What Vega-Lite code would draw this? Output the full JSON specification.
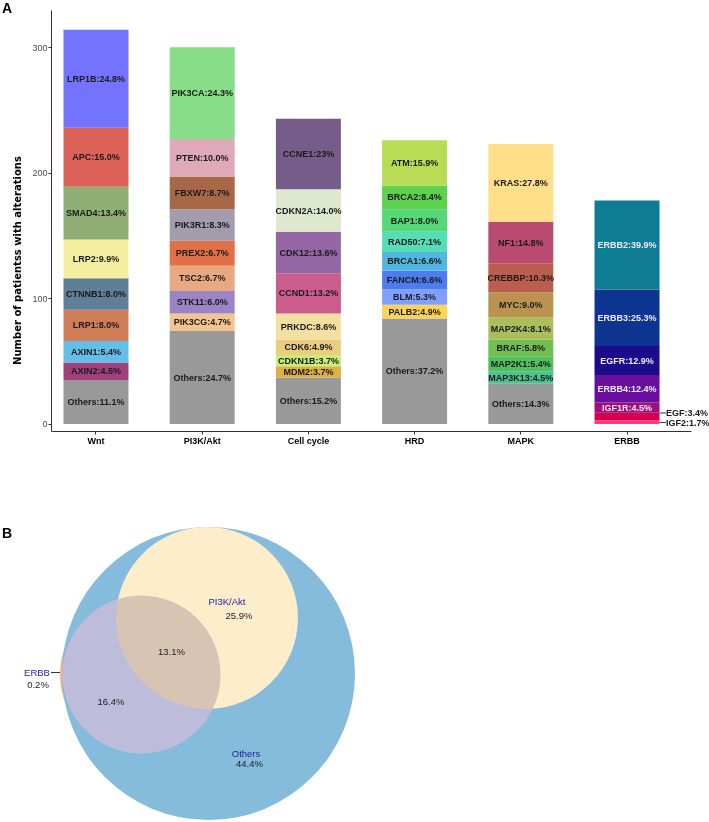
{
  "$schema": "https://vega.github.io/schema/vega-lite/v6.json",
  "background": "white",
  "padding": {"left": 1, "top": 2, "right": 0, "bottom": 0},
  "spacing": 79,
  "config": {"view": {"stroke": null}, "font": "Liberation Sans"},
  "datasets": {
    "bars": [
      {"pathway": "Wnt", "gene": "Others", "count": 35, "rank": 0, "label": "Others:11.1%"},
      {"pathway": "Wnt", "gene": "AXIN2", "count": 14, "rank": 1, "label": "AXIN2:4.5%"},
      {"pathway": "Wnt", "gene": "AXIN1", "count": 17, "rank": 2, "label": "AXIN1:5.4%"},
      {"pathway": "Wnt", "gene": "LRP1", "count": 25, "rank": 3, "label": "LRP1:8.0%"},
      {"pathway": "Wnt", "gene": "CTNNB1", "count": 25, "rank": 4, "label": "CTNNB1:8.0%"},
      {"pathway": "Wnt", "gene": "LRP2", "count": 31, "rank": 5, "label": "LRP2:9.9%"},
      {"pathway": "Wnt", "gene": "SMAD4", "count": 42, "rank": 6, "label": "SMAD4:13.4%"},
      {"pathway": "Wnt", "gene": "APC", "count": 47, "rank": 7, "label": "APC:15.0%"},
      {"pathway": "Wnt", "gene": "LRP1B", "count": 78, "rank": 8, "label": "LRP1B:24.8%"},
      {"pathway": "PI3K/Akt", "gene": "Others", "count": 74, "rank": 0, "label": "Others:24.7%"},
      {"pathway": "PI3K/Akt", "gene": "PIK3CG", "count": 14, "rank": 1, "label": "PIK3CG:4.7%"},
      {"pathway": "PI3K/Akt", "gene": "STK11", "count": 18, "rank": 2, "label": "STK11:6.0%"},
      {"pathway": "PI3K/Akt", "gene": "TSC2", "count": 20, "rank": 3, "label": "TSC2:6.7%"},
      {"pathway": "PI3K/Akt", "gene": "PREX2", "count": 20, "rank": 4, "label": "PREX2:6.7%"},
      {"pathway": "PI3K/Akt", "gene": "PIK3R1", "count": 25, "rank": 5, "label": "PIK3R1:8.3%"},
      {"pathway": "PI3K/Akt", "gene": "FBXW7", "count": 26, "rank": 6, "label": "FBXW7:8.7%"},
      {"pathway": "PI3K/Akt", "gene": "PTEN", "count": 30, "rank": 7, "label": "PTEN:10.0%"},
      {"pathway": "PI3K/Akt", "gene": "PIK3CA", "count": 73, "rank": 8, "label": "PIK3CA:24.3%"},
      {"pathway": "Cell cycle", "gene": "Others", "count": 37, "rank": 0, "label": "Others:15.2%"},
      {"pathway": "Cell cycle", "gene": "MDM2", "count": 9, "rank": 1, "label": "MDM2:3.7%"},
      {"pathway": "Cell cycle", "gene": "CDKN1B", "count": 9, "rank": 2, "label": "CDKN1B:3.7%"},
      {"pathway": "Cell cycle", "gene": "CDK6", "count": 12, "rank": 3, "label": "CDK6:4.9%"},
      {"pathway": "Cell cycle", "gene": "PRKDC", "count": 21, "rank": 4, "label": "PRKDC:8.6%"},
      {"pathway": "Cell cycle", "gene": "CCND1", "count": 32, "rank": 5, "label": "CCND1:13.2%"},
      {"pathway": "Cell cycle", "gene": "CDK12", "count": 33, "rank": 6, "label": "CDK12:13.6%"},
      {"pathway": "Cell cycle", "gene": "CDKN2A", "count": 34, "rank": 7, "label": "CDKN2A:14.0%"},
      {"pathway": "Cell cycle", "gene": "CCNE1", "count": 56, "rank": 8, "label": "CCNE1:23%"},
      {"pathway": "HRD", "gene": "Others", "count": 84, "rank": 0, "label": "Others:37.2%"},
      {"pathway": "HRD", "gene": "PALB2", "count": 11, "rank": 1, "label": "PALB2:4.9%"},
      {"pathway": "HRD", "gene": "BLM", "count": 12, "rank": 2, "label": "BLM:5.3%"},
      {"pathway": "HRD", "gene": "FANCM", "count": 15, "rank": 3, "label": "FANCM:6.6%"},
      {"pathway": "HRD", "gene": "BRCA1", "count": 15, "rank": 4, "label": "BRCA1:6.6%"},
      {"pathway": "HRD", "gene": "RAD50", "count": 16, "rank": 5, "label": "RAD50:7.1%"},
      {"pathway": "HRD", "gene": "BAP1", "count": 18, "rank": 6, "label": "BAP1:8.0%"},
      {"pathway": "HRD", "gene": "BRCA2", "count": 19, "rank": 7, "label": "BRCA2:8.4%"},
      {"pathway": "HRD", "gene": "ATM", "count": 36, "rank": 8, "label": "ATM:15.9%"},
      {"pathway": "MAPK", "gene": "Others", "count": 32, "rank": 0, "label": "Others:14.3%"},
      {"pathway": "MAPK", "gene": "MAP3K13", "count": 10, "rank": 1, "label": "MAP3K13:4.5%"},
      {"pathway": "MAPK", "gene": "MAP2K1", "count": 12, "rank": 2, "label": "MAP2K1:5.4%"},
      {"pathway": "MAPK", "gene": "BRAF", "count": 13, "rank": 3, "label": "BRAF:5.8%"},
      {"pathway": "MAPK", "gene": "MAP2K4", "count": 18, "rank": 4, "label": "MAP2K4:8.1%"},
      {"pathway": "MAPK", "gene": "MYC", "count": 20, "rank": 5, "label": "MYC:9.0%"},
      {"pathway": "MAPK", "gene": "CREBBP", "count": 23, "rank": 6, "label": "CREBBP:10.3%"},
      {"pathway": "MAPK", "gene": "NF1", "count": 33, "rank": 7, "label": "NF1:14.8%"},
      {"pathway": "MAPK", "gene": "KRAS", "count": 62, "rank": 8, "label": "KRAS:27.8%"},
      {"pathway": "ERBB", "gene": "IGF2", "count": 3, "rank": 1, "label": "IGF2:1.7%"},
      {"pathway": "ERBB", "gene": "EGF", "count": 6, "rank": 2, "label": "EGF:3.4%"},
      {"pathway": "ERBB", "gene": "IGF1R", "count": 8, "rank": 3, "label": "IGF1R:4.5%"},
      {"pathway": "ERBB", "gene": "ERBB4", "count": 22, "rank": 4, "label": "ERBB4:12.4%"},
      {"pathway": "ERBB", "gene": "EGFR", "count": 23, "rank": 5, "label": "EGFR:12.9%"},
      {"pathway": "ERBB", "gene": "ERBB3", "count": 45, "rank": 6, "label": "ERBB3:25.3%"},
      {"pathway": "ERBB", "gene": "ERBB2", "count": 71, "rank": 7, "label": "ERBB2:39.9%"}
    ],
    "circles": [
      {"set": "Others", "cx": 157.5, "cy": 149.5, "r": 146.5},
      {"set": "PI3K/Akt", "cx": 156, "cy": 94, "r": 91},
      {"set": "ERBB", "cx": 90.5, "cy": 150.5, "r": 79}
    ],
    "vlabels": [
      {"text": "PI3K/Akt", "lx": 176, "ly": 78, "kind": "name"},
      {"text": "25.9%", "lx": 188, "ly": 92, "kind": "pct"},
      {"text": "13.1%", "lx": 120.5, "ly": 128, "kind": "pct"},
      {"text": "ERBB", "lx": -14, "ly": 148.5, "kind": "name"},
      {"text": "0.2%", "lx": -13, "ly": 160.5, "kind": "pct"},
      {"text": "16.4%", "lx": 60, "ly": 178, "kind": "pct"},
      {"text": "Others", "lx": 195, "ly": 230, "kind": "name"},
      {"text": "44.4%", "lx": 198.5, "ly": 239.5, "kind": "pct"}
    ],
    "leader": [
      {"x1": 0, "x2": 9, "ly": 148.5}
    ],
    "panel": [
      {"text": "B", "lx": -44, "ly": 10}
    ]
  },
  "vconcat": [
    {
      "width": 640,
      "height": 421,
      "title": {"text": "A", "anchor": "start", "frame": "group", "dx": -49, "fontSize": 14, "fontWeight": "bold", "color": "#000000", "offset": -6, "font": "Liberation Sans"},
      "data": {"name": "bars"},
      "transform": [
        {"stack": "count", "groupby": ["pathway"], "sort": [{"field": "rank", "order": "ascending"}], "as": ["y0", "y1"]},
        {"calculate": "(datum.y0 + datum.y1) / 2", "as": "ymid"}
      ],
      "encoding": {
        "x": {
          "field": "pathway", "type": "nominal",
          "sort": ["Wnt", "PI3K/Akt", "Cell cycle", "HRD", "MAPK", "ERBB"],
          "scale": {"paddingInner": 0.388, "paddingOuter": 0.207, "align": 0.284},
          "axis": {"title": null, "labelAngle": 0, "labelFontWeight": "bold", "labelFontSize": 9, "labelColor": "#000000", "labelPadding": 2, "tickSize": 3, "tickColor": "#333333", "domainColor": "#333333", "labelFont": "Liberation Sans"}
        }
      },
      "layer": [
        {
          "mark": {"type": "bar"},
          "encoding": {
            "y": {
              "field": "y1", "type": "quantitative",
              "scale": {"domain": [-5.6, 329.7], "nice": false, "zero": false},
              "axis": {"values": [0, 100, 200, 300], "grid": false, "tickSize": 3, "tickColor": "#333333", "domainColor": "#333333", "labelFontSize": 9, "labelColor": "#4D4D4D", "labelPadding": 1, "labelFont": "Liberation Sans",
                       "title": "Number of patientss with alterations", "titleFont": "DejaVu Sans", "titleFontSize": 10, "titleFontWeight": "bold", "titleColor": "#000000", "titleX": -34, "titleY": 250, "titleBaseline": "middle", "titleAlign": "center"}
            },
            "y2": {"field": "y0"},
            "color": {
              "field": "gene", "type": "nominal", "legend": null,
              "scale": {
                "domain": ["Others","LRP1B","APC","SMAD4","LRP2","CTNNB1","LRP1","AXIN1","AXIN2","PIK3CA","PTEN","FBXW7","PIK3R1","PREX2","TSC2","STK11","PIK3CG","CCNE1","CDKN2A","CDK12","CCND1","PRKDC","CDK6","CDKN1B","MDM2","ATM","BRCA2","BAP1","RAD50","BRCA1","FANCM","BLM","PALB2","KRAS","NF1","CREBBP","MYC","MAP2K4","BRAF","MAP2K1","MAP3K13","ERBB2","ERBB3","EGFR","ERBB4","IGF1R","EGF","IGF2"],
                "range": ["#999999","#7373FF","#DD6358","#8FAE74","#F5EEA0","#5F7F99","#D07E5A","#64BEE8","#A0407E","#88DD88","#E0A9BA","#A86848","#A29CAC","#E07048","#E8A880","#9B84C6","#F2C590","#765C88","#DDE8CE","#9466A3","#CC5C8C","#F3DFA0","#ECCD80","#C8EE7A","#DDB040","#B8DD55","#5ED24E","#55D878","#55DDB8","#50B8DE","#4D7CF0","#80A0FF","#FFD455","#FFDF8A","#B94B70","#BB5E4E","#BC9250","#AABF5C","#70BF50","#52C060","#4CC28E","#0E7C93","#0C3490","#1C0B8A","#680FA0","#A0107A","#D6004E","#FF3A78"]
              }
            }
          }
        },
        {
          "transform": [{"filter": "datum.gene !== 'EGF' && datum.gene !== 'IGF2'"}],
          "mark": {"type": "text", "fontSize": 9, "fontWeight": "bold", "font": "Liberation Sans"},
          "encoding": {
            "y": {"field": "ymid", "type": "quantitative"},
            "text": {"field": "label"},
            "color": {"condition": {"test": "datum.pathway === 'ERBB'", "value": "#EEEAF5"}, "value": "#1A1A1A"}
          }
        },
        {
          "transform": [{"filter": "datum.gene === 'EGF'"}],
          "mark": {"type": "text", "fontSize": 9, "fontWeight": "bold", "font": "Liberation Sans", "align": "left", "dx": 39, "yOffset": -3.5, "color": "#1A1A1A"},
          "encoding": {"y": {"field": "ymid", "type": "quantitative"}, "text": {"field": "label"}}
        },
        {
          "transform": [{"filter": "datum.gene === 'IGF2'"}],
          "mark": {"type": "text", "fontSize": 9, "fontWeight": "bold", "font": "Liberation Sans", "align": "left", "dx": 39, "yOffset": 0.5, "color": "#1A1A1A"},
          "encoding": {"y": {"field": "ymid", "type": "quantitative"}, "text": {"field": "label"}}
        },
        {
          "transform": [{"filter": "datum.gene === 'EGF'"}],
          "mark": {"type": "tick", "orient": "horizontal", "size": 6, "thickness": 1, "xOffset": 36, "yOffset": -3.5, "color": "#333333", "opacity": 1},
          "encoding": {"y": {"field": "ymid", "type": "quantitative"}}
        },
        {
          "transform": [{"filter": "datum.gene === 'IGF2'"}],
          "mark": {"type": "tick", "orient": "horizontal", "size": 6, "thickness": 1, "xOffset": 36, "yOffset": 0.5, "color": "#333333", "opacity": 1},
          "encoding": {"y": {"field": "ymid", "type": "quantitative"}}
        }
      ]
    },
    {
      "width": 310,
      "height": 300,
      "layer": [
        {
          "data": {"name": "circles"},
          "transform": [{"filter": "datum.set === 'ERBB'"}],
          "mark": {"type": "point", "shape": "circle", "filled": true, "opacity": 1, "strokeWidth": 0, "color": "#F4B67C", "xOffset": -2.5},
          "encoding": {
            "x": {"field": "cx", "type": "quantitative", "scale": {"domain": [0, 310], "nice": false, "zero": false}, "axis": null},
            "y": {"field": "cy", "type": "quantitative", "scale": {"domain": [0, 300], "nice": false, "zero": false, "reverse": true}, "axis": null},
            "size": {"field": "r", "type": "quantitative", "scale": {"type": "pow", "exponent": 2, "domain": [0, 150], "range": [0, 90000]}, "legend": null}
          }
        },
        {
          "data": {"name": "circles"},
          "transform": [{"filter": "datum.set === 'Others'"}],
          "mark": {"type": "point", "shape": "circle", "filled": true, "opacity": 1, "strokeWidth": 0, "color": "#85BBDB"},
          "encoding": {
            "x": {"field": "cx", "type": "quantitative"},
            "y": {"field": "cy", "type": "quantitative"},
            "size": {"field": "r", "type": "quantitative", "legend": null}
          }
        },
        {
          "data": {"name": "circles"},
          "transform": [{"filter": "datum.set === 'ERBB'"}],
          "mark": {"type": "point", "shape": "circle", "filled": true, "opacity": 1, "strokeWidth": 0, "color": "#DEE3F7"},
          "encoding": {
            "x": {"field": "cx", "type": "quantitative"},
            "y": {"field": "cy", "type": "quantitative"},
            "size": {"field": "r", "type": "quantitative", "legend": null}
          }
        },
        {
          "data": {"name": "circles"},
          "transform": [{"filter": "datum.set === 'PI3K/Akt'"}],
          "mark": {"type": "point", "shape": "circle", "filled": true, "opacity": 1, "strokeWidth": 0, "color": "#FEEDCA"},
          "encoding": {
            "x": {"field": "cx", "type": "quantitative"},
            "y": {"field": "cy", "type": "quantitative"},
            "size": {"field": "r", "type": "quantitative", "legend": null}
          }
        },
        {
          "data": {"name": "circles"},
          "transform": [{"filter": "datum.set === 'ERBB'"}],
          "mark": {"type": "point", "shape": "circle", "filled": true, "opacity": 1, "strokeWidth": 0, "color": "#D9D3E2", "blend": "multiply"},
          "encoding": {
            "x": {"field": "cx", "type": "quantitative"},
            "y": {"field": "cy", "type": "quantitative"},
            "size": {"field": "r", "type": "quantitative", "legend": null}
          }
        },
        {
          "data": {"name": "leader"},
          "mark": {"type": "rule", "color": "#333333", "strokeWidth": 1},
          "encoding": {
            "x": {"field": "x1", "type": "quantitative"},
            "x2": {"field": "x2"},
            "y": {"field": "ly", "type": "quantitative"}
          }
        },
        {
          "data": {"name": "vlabels"},
          "mark": {"type": "text", "fontSize": 9.5, "font": "Liberation Sans", "baseline": "middle"},
          "encoding": {
            "x": {"field": "lx", "type": "quantitative"},
            "y": {"field": "ly", "type": "quantitative"},
            "text": {"field": "text"},
            "color": {"condition": {"test": "datum.kind === 'name'", "value": "#1E1E96"}, "value": "#222222"}
          }
        },
        {
          "data": {"name": "panel"},
          "mark": {"type": "text", "fontSize": 14, "fontWeight": "bold", "font": "Liberation Sans", "baseline": "middle", "color": "#000000"},
          "encoding": {
            "x": {"field": "lx", "type": "quantitative"},
            "y": {"field": "ly", "type": "quantitative"},
            "text": {"field": "text"}
          }
        }
      ]
    }
  ]
}
